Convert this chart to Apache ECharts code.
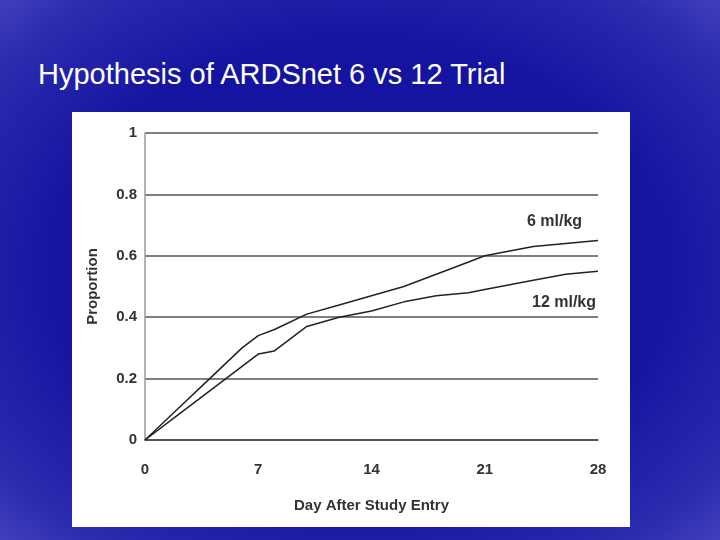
<!DOCTYPE html>
<html>
<head>
<meta charset="utf-8">
<script src="https://cdn.jsdelivr.net/npm/echarts@6/dist/echarts.min.js"></script>
<style>
body{margin:0;}
#bg{width:720px;height:540px;position:relative;
 background:radial-gradient(ellipse at center,#1414a0 60%,#2c2cb0 88%,#4040bc 100%);}
#title{position:absolute;left:38px;top:58px;color:#fff;font:29px "Liberation Sans",Arial,sans-serif;}
#main{position:absolute;left:72px;top:112px;width:558px;height:415px;background:#fff;}
</style>
</head>
<body>
<div id="bg">
<div id="title">Hypothesis of ARDSnet 6 vs 12 Trial</div>
<div id="main"></div>
</div>
<script>
var days = [0, 2, 4, 6, 7, 8, 10, 12, 14, 16, 18, 20, 21, 24, 26, 28];
var ml6 = [0, 0.1, 0.2, 0.3, 0.34, 0.36, 0.41, 0.44, 0.47, 0.5, 0.54, 0.58, 0.6, 0.63, 0.64, 0.65];
var ml12 = [0, 0.08, 0.16, 0.24, 0.28, 0.29, 0.37, 0.4, 0.42, 0.45, 0.47, 0.48, 0.49, 0.52, 0.54, 0.55];

function pairs(v) {
    return days.map(function (d, i) { return [d, v[i]]; });
}

var myChart = echarts.init(document.getElementById('main'));
var lbl = {color: '#333', fontWeight: 'bold', fontSize: 15, fontFamily: 'Liberation Sans'};
myChart.setOption({
    animation: false,
    grid: {left: 73, right: 32, top: 21, bottom: 87},
    xAxis: {
        type: 'value', min: 0, max: 28, interval: 7,
        name: 'Day After Study Entry', nameLocation: 'middle', nameGap: 58,
        nameTextStyle: lbl,
        axisLine: {show: true, lineStyle: {color: '#444', width: 1.5}},
        axisTick: {show: false},
        splitLine: {show: false},
        axisLabel: Object.assign({margin: 22}, lbl)
    },
    yAxis: {
        type: 'value', min: 0, max: 1, interval: 0.2,
        name: 'Proportion', nameLocation: 'middle', nameGap: 45,
        nameTextStyle: lbl,
        axisLine: {show: true, lineStyle: {color: '#999', width: 1.5}},
        axisTick: {show: false},
        splitLine: {lineStyle: {color: '#555', width: 1.5}},
        axisLabel: lbl
    },
    series: [{
        type: 'line', data: pairs(ml6), symbol: 'none',
        lineStyle: {color: '#222', width: 1.5}
    }, {
        type: 'line', data: pairs(ml12), symbol: 'none',
        lineStyle: {color: '#222', width: 1.5}
    }],
    graphic: [
        {type: 'text', left: 455, top: 102, style: {text: '6 ml/kg', fill: '#333', font: 'bold 16px Liberation Sans'}},
        {type: 'text', left: 460, top: 183, style: {text: '12 ml/kg', fill: '#333', font: 'bold 16px Liberation Sans'}}
    ]
});
</script>
</body>
</html>
